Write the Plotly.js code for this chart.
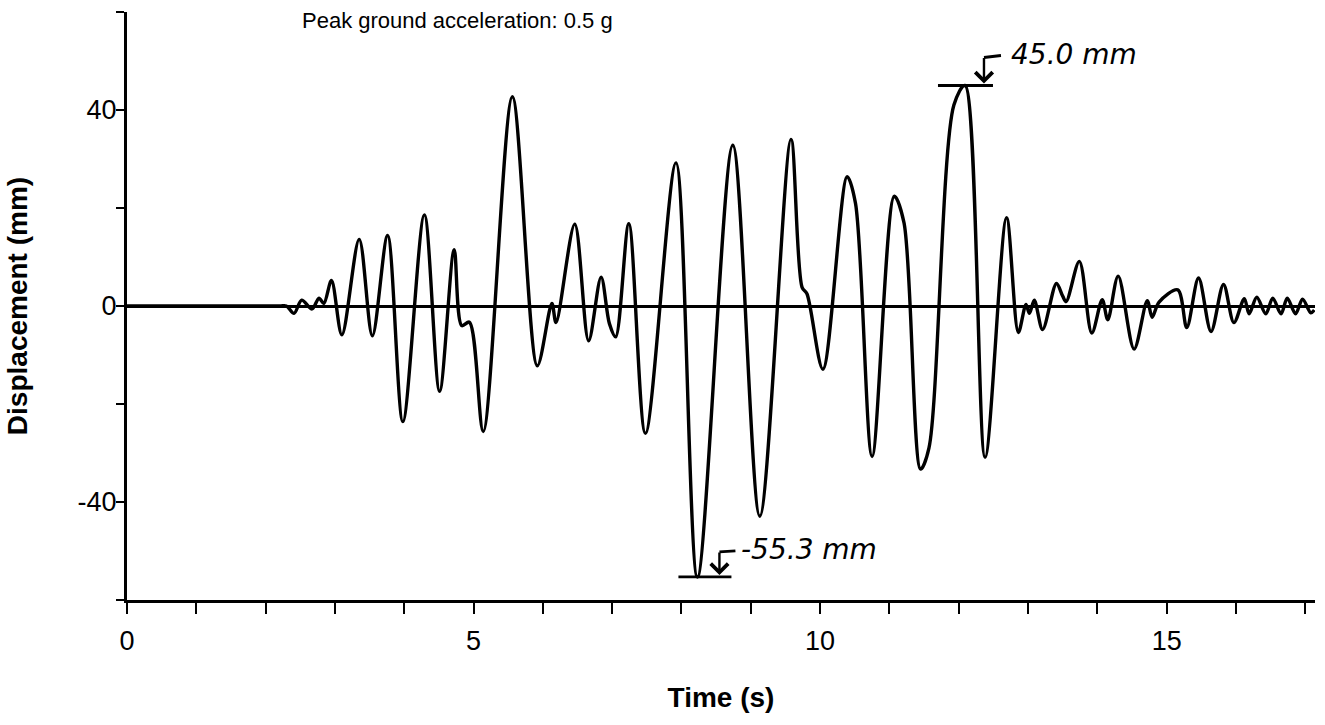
<!DOCTYPE html>
<html>
<head>
<meta charset="utf-8">
<script src="https://cdn.plot.ly/plotly-3.0.1.min.js"></script>
<style>html,body{margin:0;padding:0;background:#fff;}#chart{width:1325px;height:725px;}</style>
</head>
<body>
<div id="chart"></div>
<script>
// Time (s) of the traced turning points of the displacement record
const timeS = [0, 2.20, 2.30, 2.41, 2.52, 2.67, 2.77, 2.84, 2.95, 3.10, 3.35,
  3.54, 3.76, 3.98, 4.29, 4.51, 4.72, 4.83, 4.94, 5.14, 5.56,
  5.92, 6.13, 6.19, 6.46, 6.66, 6.84, 6.96, 7.05, 7.24, 7.48,
  7.92, 8.23, 8.74, 9.13, 9.58, 9.74, 9.81, 10.04, 10.39, 10.51,
  10.75, 11.07, 11.21, 11.45, 11.57, 11.93, 12.09, 12.38, 12.69, 12.86,
  12.97, 13.02, 13.09, 13.21, 13.41, 13.50, 13.55, 13.74, 13.92, 14.07,
  14.15, 14.30, 14.53, 14.72, 14.79, 14.89, 15.16, 15.29, 15.46, 15.64,
  15.82, 15.97, 16.12, 16.19, 16.30, 16.43, 16.53, 16.65, 16.74, 16.86,
  16.96, 17.08, 17.13];
// Displacement (mm) at those times
const displacementMm = [0, 0, 0, -1.5, 1.2, -0.6, 1.6, 0.5, 5.2, -5.9, 13.6,
  -6.1, 14.4, -23.6, 18.6, -17.4, 11.5, -4, -3.3, -25.6, 42.7,
  -12.2, 0.5, -3.4, 16.7, -7.1, 5.9, -3.6, -6.3, 16.8, -26.0,
  29.2, -55.3, 32.8, -42.9, 34.0, 3.8, 2.5, -12.9, 26.4, 21,
  -30.7, 22.4, 17, -33.3, -29, 41, 45.0, -30.9, 18.0, -5.4,
  0.3, -1.5, 1.2, -4.8, 4.6, 2.0, 0.9, 9.1, -5.5, 1.3,
  -2.8, 6.1, -8.8, 1.1, -2.3, 0.8, 3.3, -4.4, 5.7, -5.2,
  4.4, -3.4, 1.5, -1.6, 1.8, -1.6, 1.6, -1.6, 1.6, -1.6,
  1.4, -1.4, -0.8];

const xTickVals = [0,1,2,3,4,5,6,7,8,9,10,11,12,13,14,15,16,17];
const xTickText = ['0','','','','','5','','','','','10','','','','','15','',''];
const yTickVals = [-60,-40,-20,0,20,40,60];
const yTickText = ['','-40','','0','','40',''];

const headerText = 'Peak ground acceleration: 0.5 g';
const maxLabel = '45.0 mm';
const minLabel = '-55.3 mm';

const vMax = Math.max(...displacementMm);
const vMin = Math.min(...displacementMm);
const tMax = timeS[displacementMm.indexOf(vMax)];
const tMin = timeS[displacementMm.indexOf(vMin)];

const ink = '#000';
const sans = 'Liberation Sans, Arial, sans-serif';
const hand = {family: 'DejaVu Sans', size: 28, color: ink, style: 'italic'};

const trace = {
  x: timeS, y: displacementMm, type: 'scatter', mode: 'lines',
  line: {color: ink, width: 3.4, shape: 'spline', smoothing: 0.9},
  hoverinfo: 'skip'
};

function pxLine(tx, vy, x0, x1, y0, y1) {
  return {type: 'line', xref: 'x', yref: 'y', xsizemode: 'pixel', ysizemode: 'pixel',
    xanchor: tx, yanchor: vy, x0: x0, x1: x1, y0: y0, y1: y1,
    line: {color: ink, width: 2.8}};
}

const shapes = [
  pxLine(tMax, vMax, -27, 28, 0, 0),
  pxLine(tMax, vMax, 19, 36, 28, 30),
  pxLine(tMin, vMin, -19, 34, 0, 0),
  pxLine(tMin, vMin, 22, 38, 25, 26)
];

const annotations = [
  {xref: 'paper', yref: 'paper', x: 0.1456, y: 0.985, xanchor: 'left', yanchor: 'middle',
   text: headerText, showarrow: false, font: {family: sans, size: 22, color: ink}},
  {x: tMax, y: vMax, xref: 'x', yref: 'y', xshift: 19, yshift: 2, text: '', showarrow: true,
   ax: 0, ay: -27, arrowhead: 4, arrowsize: 1.4, arrowwidth: 2.4, arrowcolor: ink},
  {x: tMax, y: vMax, xref: 'x', yref: 'y', xshift: 44, yshift: 31, text: maxLabel, showarrow: false,
   xanchor: 'left', yanchor: 'middle', font: hand},
  {x: tMin, y: vMin, xref: 'x', yref: 'y', xshift: 22, yshift: 2, text: '', showarrow: true,
   ax: 0, ay: -24, arrowhead: 4, arrowsize: 1.4, arrowwidth: 2.4, arrowcolor: ink},
  {x: tMin, y: vMin, xref: 'x', yref: 'y', xshift: 42, yshift: 27, text: minLabel, showarrow: false,
   xanchor: 'left', yanchor: 'middle', font: hand}
];

const layout = {
  width: 1325, height: 725,
  margin: {l: 127, r: 10, t: 12, b: 125},
  paper_bgcolor: '#fff', plot_bgcolor: '#fff',
  showlegend: false,
  font: {family: sans, color: ink},
  xaxis: {
    range: [0, 17.14], showgrid: false, zeroline: false,
    showline: true, linecolor: ink, linewidth: 3,
    ticks: 'outside', ticklen: 11, tickwidth: 2, tickcolor: ink,
    tickmode: 'array', tickvals: xTickVals, ticktext: xTickText,
    tickfont: {size: 27, family: sans}, ticklabelstandoff: 4,
    title: {text: '<b>Time (s)</b>', font: {size: 28, family: sans}, standoff: 32}
  },
  yaxis: {
    range: [-60, 60], showgrid: false,
    zeroline: true, zerolinecolor: ink, zerolinewidth: 3,
    showline: true, linecolor: ink, linewidth: 3,
    ticks: 'outside', ticklen: 8, tickwidth: 2, tickcolor: ink,
    tickmode: 'array', tickvals: yTickVals, ticktext: yTickText,
    tickfont: {size: 27, family: sans}, ticklabelstandoff: -6,
    title: {text: '<b>Displacement (mm)</b>', font: {size: 28, family: sans}, standoff: 42}
  },
  shapes: shapes,
  annotations: annotations
};

Plotly.newPlot('chart', [trace], layout, {displayModeBar: false, staticPlot: true});
</script>
</body>
</html>
